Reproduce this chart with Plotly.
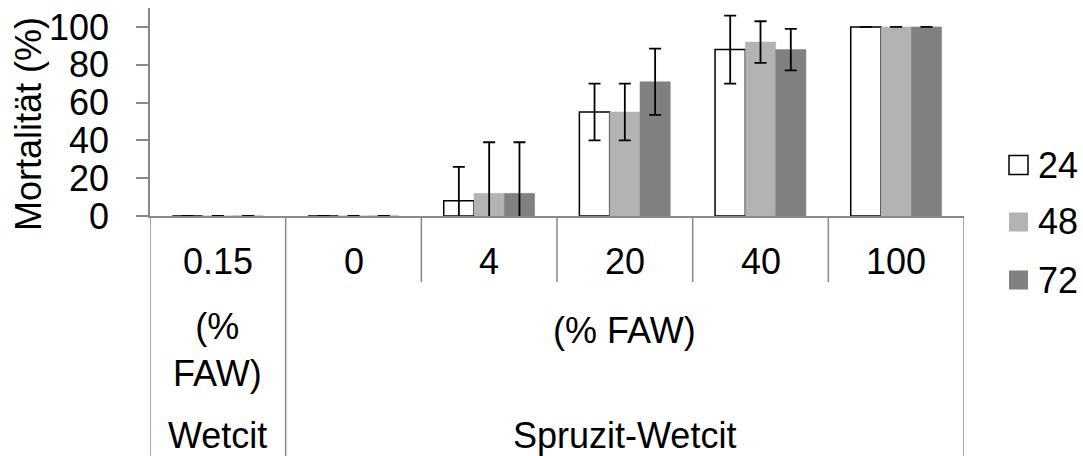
import plotly.graph_objects as go

# ---- data ----
categories = ["0.15", "0", "4", "20", "40", "100"]
series_names = ["24", "48", "72"]
values_24 = [0, 0, 8, 55, 88, 100]
values_48 = [0, 0, 12, 55, 92, 100]
values_72 = [0, 0, 12, 71, 88, 100]
err_24 = [0, 0, 18, 15, 18, 0]
err_48 = [0, 0, 27, 15, 11, 0]
err_72 = [0, 0, 27, 17.5, 11, 0]
level2_labels = ["(%<br>FAW)", "(% FAW)"]
level3_labels = ["Wetcit", "Spruzit-Wetcit"]
y_ticks = [0, 20, 40, 60, 80, 100]
y_title = "Mortalität (%)"

FONT = "Liberation Sans, Arial, sans-serif"
FS = 36
AX = "#888888"

W, H = 1083, 456
L, R, T, B = 150, 119, 8, 240
PW, PH = W - L - R, H - T - B


def py(pix):  # pixel y -> paper y
    return (H - B - pix) / PH


def px(pix):  # pixel x -> paper x
    return (pix - L) / PW


fills = ["#ffffff", "#b3b3b3", "#808080"]
lines = ["#000000", "#b3b3b3", "#808080"]
vals = [values_24, values_48, values_72]
errs = [err_24, err_48, err_72]

x_idx = list(range(len(categories)))
fig = go.Figure()
for name, v, e, fc, lc in zip(series_names, vals, errs, fills, lines):
    fig.add_trace(go.Bar(
        x=x_idx, y=v, name=name,
        marker=dict(color=fc, line=dict(color=lc, width=1.5 if fc == "#ffffff" else 0.5)),
        error_y=dict(type="data", array=e, visible=True, color="#000000",
                     thickness=1.8, width=6),
        showlegend=False,
    ))

shapes = []
# boundaries below axis
for i in range(len(categories) + 1):
    xb = i - 0.5
    full = i in (0, 1, len(categories))
    shapes.append(dict(type="line", xref="x", yref="paper", x0=xb, x1=xb,
                       y0=0, y1=py(456 if full else 282),
                       line=dict(color=AX, width=1.5)))

annotations = []
tf = dict(family=FONT, size=FS, color="black")
for i, c in enumerate(categories):
    annotations.append(dict(x=i, y=py(261), xref="x", yref="paper", text=c,
                            showarrow=False, font=tf, yanchor="middle"))
annotations.append(dict(x=0, y=py(350), xref="x", yref="paper", text=level2_labels[0],
                        showarrow=False, font=tf, yanchor="middle"))
annotations.append(dict(x=3, y=py(330), xref="x", yref="paper", text=level2_labels[1],
                        showarrow=False, font=tf, yanchor="middle"))
annotations.append(dict(x=0, y=py(436), xref="x", yref="paper", text=level3_labels[0],
                        showarrow=False, font=tf, yanchor="middle"))
annotations.append(dict(x=3, y=py(436), xref="x", yref="paper", text=level3_labels[1],
                        showarrow=False, font=tf, yanchor="middle"))
# y title
annotations.append(dict(x=px(28), y=py(124), xref="paper", yref="paper", text=y_title,
                        textangle=-90, showarrow=False, font=tf,
                        xanchor="center", yanchor="middle"))

# legend (manual)
leg_y = [165, 222, 280]
for name, fc, lc, ly in zip(series_names, fills, lines, leg_y):
    shapes.append(dict(type="rect", xref="paper", yref="paper",
                       x0=px(1009), x1=px(1028), y0=py(ly + 9.5), y1=py(ly - 9.5),
                       fillcolor=fc, line=dict(color=lc, width=1.5 if fc == "#ffffff" else 0)))
    annotations.append(dict(x=px(1036), y=py(ly), xref="paper", yref="paper", text=name,
                            showarrow=False, xanchor="left", yanchor="middle", font=tf))

fig.update_layout(
    width=W, height=H,
    margin=dict(l=L, r=R, t=T, b=B, autoexpand=False),
    paper_bgcolor="white", plot_bgcolor="white",
    barmode="group", bargap=0.33, bargroupgap=0,
    shapes=shapes, annotations=annotations,
    font=tf,
    xaxis=dict(range=[-0.5, len(categories) - 0.5], showticklabels=False, ticks="",
               showgrid=False, zeroline=False, showline=True, linecolor=AX, linewidth=1.5),
    yaxis=dict(range=[0, 110], tickvals=y_ticks, ticks="outside", ticklen=12,
               tickcolor=AX, tickwidth=1.5, showgrid=False, zeroline=False,
               showline=True, linecolor=AX, linewidth=1.5, ticklabelstandoff=20,
               tickfont=tf),
)

fig.write_html("out.html")
